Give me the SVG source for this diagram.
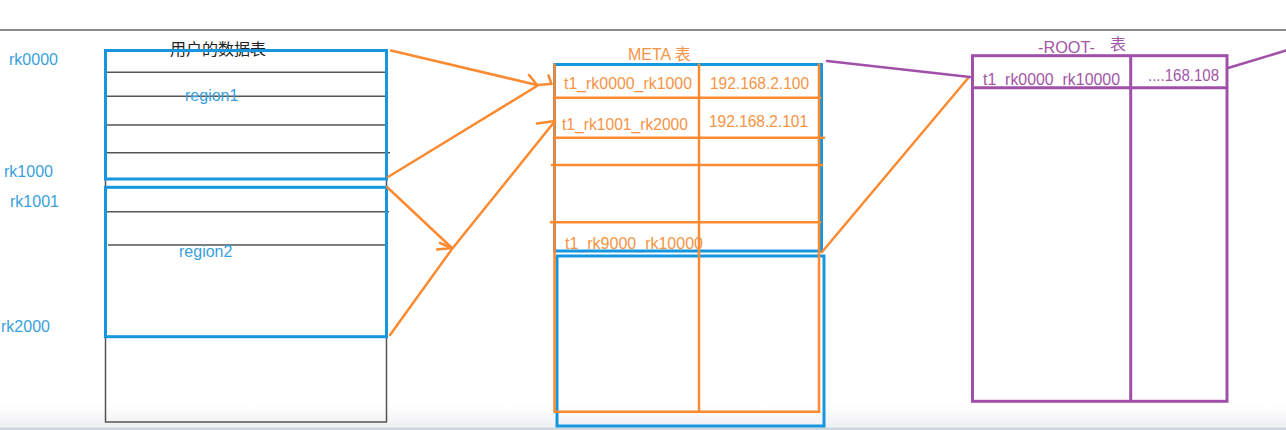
<svg xmlns="http://www.w3.org/2000/svg" width="1286" height="430" viewBox="0 0 1286 430">
<defs>
<linearGradient id="bottomBand" x1="0" y1="0" x2="0" y2="1">
<stop offset="0" stop-color="#ffffff"/>
<stop offset="1" stop-color="#eeeff1"/>
</linearGradient>
<style>
.txt{font-family:"Liberation Sans","Noto Sans CJK SC",sans-serif;font-size:16px}
.blueT{fill:#3a9fdc}
.orangeT{fill:#f59445}
.purpleT{fill:#a256a9}
.blackT{fill:#222}
.grid{stroke:#555;stroke-width:1.5;fill:none}
.blueBox{stroke:#1696de;stroke-width:3;fill:none}
.orange{stroke:#fb8a30;stroke-width:2.5;fill:none;stroke-linecap:round}
.purple{stroke:#a050a8;stroke-width:3;fill:none}
.conO{stroke:#fb8a30;stroke-width:2.5;fill:none;stroke-linecap:round;stroke-linejoin:round}
.conP{stroke:#a050a8;stroke-width:2.5;fill:none;stroke-linecap:round}
</style>
</defs>
<rect x="0" y="0" width="1286" height="430" fill="#ffffff"/>
<rect x="0" y="405" width="1286" height="23" fill="url(#bottomBand)"/>
<line x1="0" y1="428.8" x2="1286" y2="428.8" stroke="#c9d1dc" stroke-width="2"/>
<line x1="0" y1="30" x2="1286" y2="30" stroke="#8c8c8c" stroke-width="2"/>

<g id="user-table">
<rect class="grid" x="105.5" y="50" width="281" height="372"/>
<line class="grid" x1="105.5" y1="72.3" x2="386.5" y2="72.3"/>
<line class="grid" x1="105.5" y1="96.3" x2="386.5" y2="96.3"/>
<line class="grid" x1="105.5" y1="125" x2="386.5" y2="125"/>
<line class="grid" x1="105.5" y1="152.7" x2="390" y2="152.7"/>
<line class="grid" x1="105.5" y1="211.7" x2="389" y2="211.7"/>
<line class="grid" x1="108" y1="245" x2="386.5" y2="245"/>
<text class="txt blackT" x="170" y="55">用户的数据表</text>
<text class="txt blueT" x="185" y="100.5">region1</text>
<text class="txt blueT" x="179" y="257">region2</text>
<rect class="blueBox" x="105.5" y="50.5" width="281" height="128.5"/>
<rect class="blueBox" x="105.5" y="187.3" width="281" height="149.4"/>
</g>

<g id="row-keys">
<text class="txt blueT" x="9" y="64.5">rk0000</text>
<text class="txt blueT" x="4" y="177">rk1000</text>
<text class="txt blueT" x="10" y="207">rk1001</text>
<text class="txt blueT" x="1" y="332">rk2000</text>
</g>

<g id="meta-table">
<text class="txt orangeT" x="628" y="60">META 表</text>
<text class="txt orangeT" x="564" y="89" textLength="128" lengthAdjust="spacingAndGlyphs">t1_rk0000_rk1000</text>
<text class="txt orangeT" x="710" y="88.5" textLength="99" lengthAdjust="spacingAndGlyphs">192.168.2.100</text>
<text class="txt orangeT" x="562" y="130" textLength="126" lengthAdjust="spacingAndGlyphs">t1_rk1001_rk2000</text>
<text class="txt orangeT" x="709" y="126.5" textLength="99" lengthAdjust="spacingAndGlyphs">192.168.2.101</text>
<text class="txt orangeT" x="565" y="248.6" textLength="138" lengthAdjust="spacingAndGlyphs">t1_rk9000_rk10000</text>
<rect class="blueBox" x="554.5" y="64.5" width="267" height="186.5"/>
<rect class="blueBox" x="557" y="256" width="267" height="170"/>
<path class="orange" d="M554.5 64.5 V411.7 H819 V64.5"/>
<line class="orange" x1="699" y1="64.5" x2="699" y2="411.7"/>
<line class="orange" x1="554" y1="97.7" x2="820" y2="97.7"/>
<line class="orange" x1="554" y1="137.7" x2="824" y2="137.7"/>
<line class="orange" x1="552" y1="165" x2="822" y2="165"/>
<line class="orange" x1="551" y1="222.3" x2="820" y2="222.3"/>
</g>

<g id="root-table">
<text class="txt purpleT" x="1038" y="52.5" textLength="57" lengthAdjust="spacingAndGlyphs">-ROOT-</text>
<text class="txt purpleT" x="1110" y="50">表</text>
<text class="txt purpleT" x="983" y="85" textLength="137" lengthAdjust="spacingAndGlyphs">t1_rk0000_rk10000</text>
<text class="txt purpleT" x="1148" y="81" textLength="71" lengthAdjust="spacingAndGlyphs">....168.108</text>
<rect class="purple" x="972.5" y="55.7" width="254.5" height="345.6"/>
<line class="purple" x1="1130.7" y1="55.7" x2="1130.7" y2="401.3"/>
<line class="purple" x1="972.5" y1="87.7" x2="1227" y2="87.7"/>
</g>

<g id="connectors">
<path class="conO" d="M391 50.5 L537 85 L550 84"/>
<path class="conO" d="M529 75 L537 85"/>
<path class="conO" d="M548.5 75.5 L551.5 84"/>
<path class="conO" d="M388 177 L537 86"/>
<path class="conO" d="M387 187 L452 248"/>
<path class="conO" d="M440 243 L452 248 L437 249.5"/>
<path class="conO" d="M390 335 L452 249 L555 121"/>
<path class="conO" d="M537 123.5 L555 121"/>
<path class="conO" d="M822 252 L969 77"/>
<path class="conP" d="M827 61 L970 77"/>
<path class="conP" d="M1228 68 L1286 50.5"/>
</g>
</svg>
